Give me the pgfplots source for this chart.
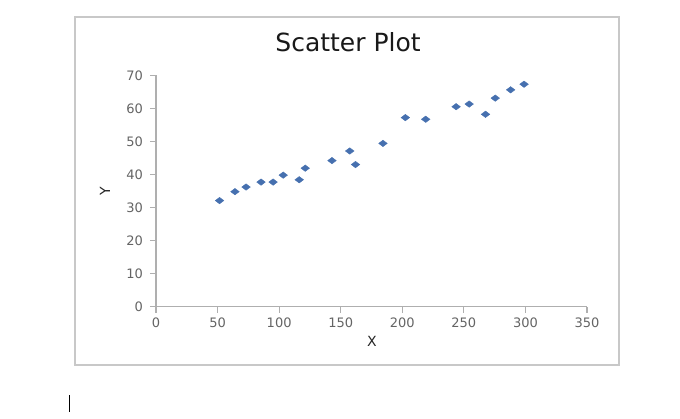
\documentclass[border=0pt]{standalone}
\usepackage{pgfplots}
\pgfplotsset{compat=1.18}
\usepackage{fontspec}
\setmainfont{DejaVu Sans}
\definecolor{markblue}{RGB}{70,112,175}
\definecolor{axisgray}{RGB}{175,175,175}
\definecolor{labgray}{RGB}{100,100,100}
\definecolor{boxgray}{RGB}{200,200,200}
\begin{document}
\begin{tikzpicture}[x=1pt,y=1pt]
\useasboundingbox (0,0) rectangle (680,418);
\draw[boxgray,line width=2pt] (75,53) rectangle (618.5,401.3);
\draw[black,line width=1.3pt] (69.3,6.3) -- (69.3,23);
\begin{axis}[
  at={(156pt,111.3pt)}, anchor=origin,
  scale only axis, width=431pt, height=231.4pt,
  xmin=0, xmax=350, ymin=0, ymax=70,
  xtick={0,50,...,350}, ytick={0,10,...,70},
  axis lines*=left,
  axis line style={axisgray,line width=1.3pt},
  tick style={axisgray,line width=1.1pt},
  tick align=outside, major tick length=6pt,
  /pgf/number format/assume math mode=true,
  ticklabel style={font=\fontsize{13}{15}\selectfont, text=labgray},
  yticklabel style={xshift=-3.5pt},
  xticklabel style={yshift=-1.5pt},
  title={Scatter Plot},
  title style={at={(axis description cs:0.4455,1)}, anchor=base, yshift=17.6pt, font=\fontsize{25}{30}\selectfont, text=black!90},
  xlabel={X}, ylabel={Y},
  xlabel style={at={(axis description cs:0.501,0)}, anchor=center, yshift=-34.3pt, font=\fontsize{14}{16}\selectfont, text=black!85},
  ylabel style={at={(axis description cs:0,0.501)}, anchor=center, yshift=51pt, font=\fontsize{14}{16}\selectfont, text=black!85},
  clip=false,
]
\addplot[only marks, mark=diamond*, mark size=4.3pt, mark options={rotate=90, fill=markblue, draw=markblue}] coordinates {
(51.6,32.1) (64.1,34.8) (73.1,36.2) (85.3,37.7) (95.1,37.7)
(103.3,39.8) (116.3,38.4) (121.2,41.9) (142.9,44.2) (157.3,47.1)
(162.0,43.0) (184.3,49.4) (202.5,57.2) (219.0,56.7) (243.7,60.5)
(254.3,61.3) (267.6,58.2) (275.5,63.1) (288.0,65.6) (298.9,67.3)
};
\end{axis}
\end{tikzpicture}
\end{document}
